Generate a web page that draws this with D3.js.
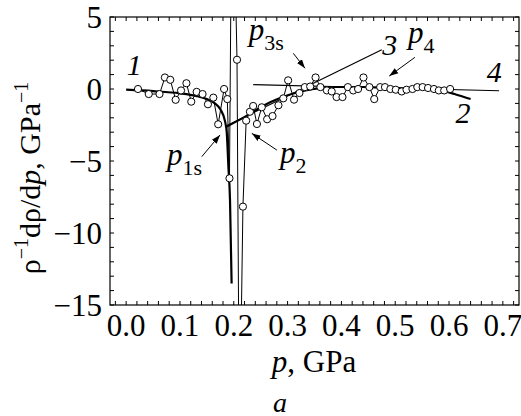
<!DOCTYPE html>
<html><head><meta charset="utf-8">
<script src="https://cdn.jsdelivr.net/npm/d3@7"></script>
<style>body{margin:0;background:#fff}svg{display:block}</style>
</head><body><svg id="c" width="521" height="416" font-family="Liberation Serif, Times New Roman, serif"></svg>
<script>
// measured points (pressure, GPa ; rho^-1 d rho/dp, GPa^-1)
const pData = [0.022,0.042,0.062,0.072,0.082,0.092,0.102,0.112,0.121,0.131,0.142,0.152,0.162,0.171,0.182,0.188,0.192,0.197,0.206,0.2105,0.217,
 0.223,0.230,0.236,0.243,0.252,0.262,0.272,0.283,0.292,0.301,0.312,0.322,0.332,0.342,0.352,0.361,0.373,0.382,0.391,0.402,0.412,0.422,0.431,0.441,0.452,0.461,0.472,0.481,0.491,0.501,0.512,0.521,0.532,0.541,0.551,0.561,0.572,0.581,0.591,0.602];
const vData = [0.0,-0.35,-0.35,0.8,0.64,-0.75,-0.1,0.4,-0.88,-0.2,-0.35,-1.06,-0.6,-2.45,0.0,-0.7,-6.2,18,2.03,-25,-8.17,
 -2.2,-1.58,-1.18,-2.43,-1.27,-2.1,-1.88,-1.13,-0.65,0.6,-0.74,-0.28,0.13,0.17,0.8,0.13,-0.1,-0.17,-0.56,-0.56,0.13,-0.1,0.0,0.8,0.13,-0.7,0.13,0.13,0.0,-0.05,-0.17,-0.05,0.0,0.13,0.13,0.07,0.0,-0.1,-0.1,0.0];
// fit curve 1
const c1P = [0.0,0.05,0.10,0.13,0.15,0.165,0.175,0.1838,0.187,0.190,0.193,0.196];
const c1V = [-0.05,-0.15,-0.3,-0.48,-0.7,-1.0,-1.4,-2.25,-3.05,-5.4,-7.7,-13.5];
// fit curve 2
const c2P = [0.187,0.222,0.255,0.286,0.317,0.348,0.379,0.44,0.502,0.56,0.585,0.61,0.64];
const c2V = [-2.6,-1.9,-1.16,-0.63,-0.24,0.0,0.14,0.14,0.07,0.0,-0.1,-0.35,-0.7];
// straight lines 3 and 4
const l3P = [0.187,0.475], l3V = [-2.55,2.73];
const l4P = [0.236,0.693], l4V = [0.3,-0.12];
// axes
const xTicks = [0.0,0.1,0.2,0.3,0.4,0.5,0.6,0.7];
const yTicks = [5,0,-5,-10,-15];
// annotations
const curveLabels = [["1",0.015,0.97],["2",0.626,-2.36],["3",0.49,2.36],["4",0.684,0.49]];
const pLabels = [["1s",0.076,-5.28],["2",0.286,-5.14],["3s",0.228,3.4],["4",0.5236,3.19]];
const arrows = [[0.1405,-4.70,0.1745,-3.19],[0.280,-4.24,0.2334,-3.08],[0.3106,2.48,0.3323,1.44],[0.5366,2.2,0.4889,0.90]];

const svg = d3.select("#c");
const L=110,R=519,T=17,B=305;
const x = d3.scaleLinear().domain([-0.03,0.73]).range([L,R]);
const y = d3.scaleLinear().domain([-15,5]).range([B,T]);

const defs = svg.append("defs");
defs.append("clipPath").attr("id","clip").append("rect")
  .attr("x",L).attr("y",T).attr("width",R-L).attr("height",B-T);
defs.append("marker").attr("id","ah").attr("viewBox","0 0 10 10").attr("refX",10).attr("refY",5)
 .attr("markerWidth",9).attr("markerHeight",9).attr("markerUnits","userSpaceOnUse").attr("orient","auto")
 .append("path").attr("d","M0,1.5 L10,5 L0,8.5 Z").attr("fill","#000");

const g = svg.append("g").attr("clip-path","url(#clip)");
const line = d3.line().x(d=>x(d[0])).y(d=>y(d[1]));
const zip=(a,b)=>a.map((v,i)=>[v,b[i]]);

g.append("path").datum(zip(pData,vData)).attr("d",line).attr("fill","none").attr("stroke","#000").attr("stroke-width",1);
g.append("path").datum(zip(l3P,l3V)).attr("d",line).attr("fill","none").attr("stroke","#000").attr("stroke-width",1.2);
g.append("path").datum(zip(l4P,l4V)).attr("d",line).attr("fill","none").attr("stroke","#000").attr("stroke-width",1.2);
const sm = d3.line().x(d=>x(d[0])).y(d=>y(d[1])).curve(d3.curveMonotoneX);
g.append("path").datum(zip(c1P,c1V)).attr("d",sm).attr("fill","none").attr("stroke","#000").attr("stroke-width",2.2);
g.append("path").datum(zip(c2P,c2V)).attr("d",sm).attr("fill","none").attr("stroke","#000").attr("stroke-width",2.2);
g.selectAll("circle").data(zip(pData,vData)).join("circle")
  .attr("cx",d=>x(d[0])).attr("cy",d=>y(d[1])).attr("r",3.6)
  .attr("fill","#fff").attr("stroke","#000").attr("stroke-width",1);

// frame
svg.append("rect").attr("x",L).attr("y",T).attr("width",R-L).attr("height",B-T).attr("fill","none").attr("stroke","#000").attr("stroke-width",1.2);
// ticks inward
const xMinor = d3.range(-0.02,0.73,0.02);
const yMinor = d3.range(-15,5.01,1);
const tk = svg.append("g").attr("stroke","#000").attr("stroke-width",1);
xMinor.forEach(v=>{const X=x(v);
  tk.append("line").attr("x1",X).attr("x2",X).attr("y1",B).attr("y2",B-4);
  tk.append("line").attr("x1",X).attr("x2",X).attr("y1",T).attr("y2",T+4);});
yMinor.forEach(v=>{const Y=y(v);
  tk.append("line").attr("x1",L).attr("x2",L+4).attr("y1",Y).attr("y2",Y);
  tk.append("line").attr("x1",R).attr("x2",R-4).attr("y1",Y).attr("y2",Y);});

// tick labels
svg.append("g").selectAll("text").data(xTicks).join("text")
  .attr("x",d=>x(d)).attr("y",336).attr("text-anchor","middle").attr("font-size",31)
  .text(d=>d.toFixed(1));
svg.append("g").selectAll("text").data(yTicks).join("text")
  .attr("x",102).attr("y",d=>y(d)+10.5).attr("text-anchor","end").attr("font-size",31)
  .text(d=>d<0?"\u2212"+(-d):d);

// axis titles
const xt = svg.append("text").attr("x",314).attr("y",372).attr("text-anchor","middle").attr("font-size",31);
xt.append("tspan").attr("font-style","italic").text("p");
xt.append("tspan").text(", GPa");
const yt = svg.append("text").attr("transform","translate(40,178) rotate(-90)").attr("text-anchor","middle").attr("font-size",30);
yt.append("tspan").text("\u03c1");
yt.append("tspan").attr("font-size",20).attr("dy",-12).text("\u22121");
yt.append("tspan").attr("dy",12).text("d\u03c1/d");
yt.append("tspan").attr("font-style","italic").text("p");
yt.append("tspan").text(", GPa");
yt.append("tspan").attr("font-size",20).attr("dy",-12).text("\u22121");
svg.append("text").attr("x",280).attr("y",412).attr("text-anchor","middle").attr("font-size",28).attr("font-style","italic").text("a");

// annotations
svg.append("g").selectAll("text").data(curveLabels).join("text")
  .attr("x",d=>x(d[1])).attr("y",d=>y(d[2])).attr("text-anchor","middle").attr("font-size",30).attr("font-style","italic").text(d=>d[0]);
pLabels.forEach(d=>{
  const t = svg.append("text").attr("x",x(d[1])).attr("y",y(d[2])).attr("font-size",31);
  t.append("tspan").attr("font-style","italic").text("p");
  t.append("tspan").attr("font-size",22).attr("dy",10).text(d[0]);
});
svg.append("g").selectAll("line").data(arrows).join("line")
  .attr("x1",d=>x(d[0])).attr("y1",d=>y(d[1])).attr("x2",d=>x(d[2])).attr("y2",d=>y(d[3]))
  .attr("stroke","#000").attr("stroke-width",1).attr("marker-end","url(#ah)");
</script></body></html>
